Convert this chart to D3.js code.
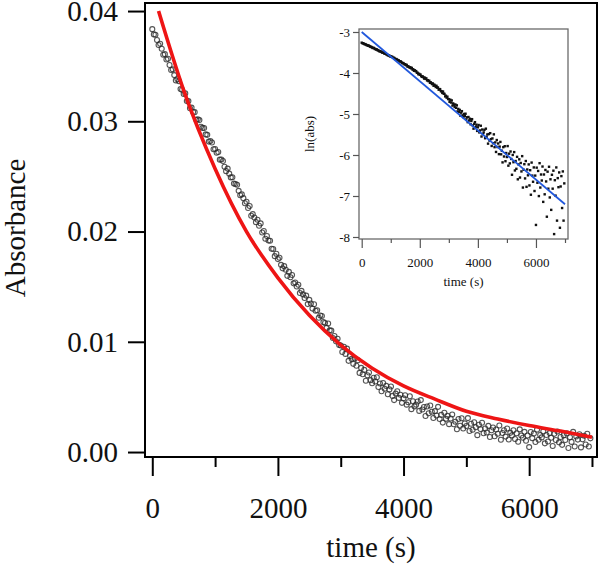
<!DOCTYPE html>
<html>
<head>
<meta charset="utf-8">
<script src="https://cdn.jsdelivr.net/npm/d3@7"></script>
<style>
  html, body { margin: 0; padding: 0; background: #fff; }
  svg { display: block; }
  text { font-family: "Liberation Serif", "Times New Roman", serif; fill: #111; }
</style>
</head>
<body>
<svg id="chart" width="600" height="568"></svg>
<script>
// ---------------- data ----------------
// sampling times (s): one reading every 25 s
const sampleTimes = d3.range(0, 7000, 25);
// absorbance readings (4 readings per 100 s)
const absorbance = [
  0.03836,0.03788,0.03785,0.03737, 0.03692,0.03704,0.03658,0.03604,
  0.03609,0.03561,0.03567,0.03510, 0.03465,0.03471,0.03419,0.03371,
  0.03382,0.03364,0.03292,0.03286, 0.03247,0.03253,0.03183,0.03183,
  0.03119,0.03124,0.03084,0.03083, 0.03013,0.03018,0.03011,0.02950,
  0.02940,0.02939,0.02881,0.02877, 0.02816,0.02821,0.02808,0.02747,
  0.02749,0.02715,0.02722,0.02652, 0.02653,0.02640,0.02588,0.02548,
  0.02571,0.02525,0.02491,0.02493, 0.02435,0.02431,0.02424,0.02369,
  0.02329,0.02337,0.02303,0.02257,
  0.02270,0.02213,0.02232,0.02143, 0.02158,0.02128,0.02085,0.02107,
  0.02052,0.02074,0.01991,0.02005, 0.01934,0.01959,0.01919,0.01916,
  0.01844,0.01841,0.01777,0.01798, 0.01750,0.01762,0.01698,0.01666,
  0.01686,0.01654,0.01598,0.01634, 0.01586,0.01606,0.01530,0.01538,
  0.01502,0.01518,0.01442,0.01462, 0.01430,0.01397,0.01419,0.01342,
  0.01380,0.01347,0.01301,0.01340, 0.01282,0.01286,0.01218,0.01238,
  0.01234,0.01178,0.01170,0.01126, 0.01166,0.01104,0.01101,0.01035,
  0.01052,0.01004,0.01028,0.00972,
  0.00966,0.00907,0.00955,0.00890, 0.00938,0.00827,0.00872,0.00845,
  0.00800,0.00849,0.00783,0.00832, 0.00718,0.00763,0.00706,0.00745,
  0.00646,0.00696,0.00722,0.00652, 0.00624,0.00674,0.00640,0.00678,
  0.00590,0.00622,0.00552,0.00626, 0.00574,0.00600,0.00524,0.00568,
  0.00594,0.00509,0.00471,0.00530, 0.00552,0.00491,0.00519,0.00446,
  0.00487,0.00515,0.00430,0.00451, 0.00506,0.00389,0.00461,0.00414,
  0.00430,0.00458,0.00373,0.00471, 0.00386,0.00409,0.00327,0.00413,
  0.00352,0.00422,0.00365,0.00309, 0.00371,0.00331,0.00410,0.00300,
  0.00337,0.00267,0.00357,0.00301, 0.00328,0.00253,0.00304,0.00341,
  0.00252,0.00275,0.00207,0.00300, 0.00239,0.00307,0.00213,0.00260,
  0.00236,0.00308,0.00191,0.00256, 0.00202,0.00270,0.00225,0.00153,
  0.00248,0.00208,0.00266,0.00170, 0.00214,0.00177,0.00237,0.00137,
  0.00197,0.00223,0.00143,0.00204, 0.00166,0.00241,0.00112,0.00173,
  0.00198,0.00140,0.00214,0.00114, 0.00174,0.00151,0.00197,0.00118,
  0.00171,0.00094,0.00206,0.00150, 0.00129,0.00183,0.00103,0.00150,
  0.00045,0.00182,0.00126,0.00168, 0.00091,0.00203,0.00112,0.00154,
  0.00133,0.00187,0.00079,0.00154, 0.00095,0.00172,0.00130,0.00055,
  0.00165,0.00109,0.00186,0.00088, 0.00137,0.00065,0.00153,0.00109,
  0.00169,0.00036,0.00134,0.00092, 0.00183,0.00050,0.00141,0.00113,
  0.00162,0.00042,0.00115,0.00148, 0.00068,0.00166,0.00050,0.00124
];
// red single-exponential fit
const fitTimes = [100, 500, 1000, 1500, 2000, 2500, 3000, 3500, 4000, 4500, 5000, 5500, 6000, 6500, 7000];
const fitAbs   = [0.0400, 0.0328, 0.0257, 0.0200, 0.0158, 0.0124, 0.0097, 0.0076, 0.0060, 0.0048, 0.0037, 0.0030, 0.0024, 0.0019, 0.00135];
// blue linear fit of ln(abs) in the inset
const lineTimes = [0, 7000];
const lineLn    = [-3.0, -7.2];
// tick labels
const mainYTicks = [0, 0.01, 0.02, 0.03, 0.04];
const mainXMajor = [0, 2000, 4000, 6000];
const mainXMinor = [1000, 3000, 5000, 7000];
const insetYTicks = [-3, -4, -5, -6, -7, -8];
const insetXMajor = [0, 2000, 4000, 6000];
const insetXMinor = [1000, 3000, 5000, 7000];

const points = sampleTimes.map((t, i) => ({ t, a: absorbance[i] }));
const fit = fitTimes.map((t, i) => ({ t, a: fitAbs[i] }));
const line = lineTimes.map((t, i) => ({ t, v: lineLn[i] }));

// ---------------- main chart ----------------
const svg = d3.select("#chart");
const L = 145, R = 597, T = 3, B = 457;
const x = d3.scaleLinear().domain([-116, 7080]).range([L, R]);
const y = d3.scaleLinear().domain([-0.00045, 0.04073]).range([B, T]);

svg.append("defs").append("clipPath").attr("id", "mainClip")
  .append("rect").attr("x", L).attr("y", T).attr("width", R - L).attr("height", B - T);

// data circles
svg.append("g").attr("clip-path", "url(#mainClip)")
  .selectAll("circle").data(points).join("circle")
  .attr("cx", d => x(d.t)).attr("cy", d => y(d.a)).attr("r", 2.5)
  .attr("fill", "none").attr("stroke", "#2a2a2a").attr("stroke-opacity", 0.8).attr("stroke-width", 1.1);

// red fit
svg.append("path").datum(fit)
  .attr("clip-path", "url(#mainClip)")
  .attr("d", d3.line().x(d => x(d.t)).y(d => y(d.a)).curve(d3.curveMonotoneX))
  .attr("fill", "none").attr("stroke", "#ee1515").attr("stroke-width", 3.6);

// frame
svg.append("rect").attr("x", L).attr("y", T).attr("width", R - L).attr("height", B - T)
  .attr("fill", "none").attr("stroke", "#000").attr("stroke-width", 2);

// y axis
const yAx = svg.append("g").attr("transform", `translate(${L},0)`)
  .call(d3.axisLeft(y).tickValues(mainYTicks).tickFormat(d3.format(".2f")).tickSize(17).tickPadding(10));
yAx.select(".domain").remove();
yAx.selectAll("line").attr("stroke", "#000").attr("stroke-width", 2);
yAx.selectAll("text").attr("font-size", 29).attr("fill", "#111")
  .style("font-family", "'Liberation Serif', serif");

// x axis major
const xAx = svg.append("g").attr("transform", `translate(0,${B})`)
  .call(d3.axisBottom(x).tickValues(mainXMajor).tickFormat(d3.format("d")).tickSize(19));
xAx.select(".domain").remove();
xAx.selectAll("line").attr("stroke", "#000").attr("stroke-width", 2);
xAx.selectAll("text").attr("font-size", 29).attr("y", 61).attr("dy", 0).attr("fill", "#111")
  .style("font-family", "'Liberation Serif', serif");
// x axis minor
const xAxm = svg.append("g").attr("transform", `translate(0,${B})`)
  .call(d3.axisBottom(x).tickValues(mainXMinor).tickFormat("").tickSize(10));
xAxm.select(".domain").remove();
xAxm.selectAll("line").attr("stroke", "#000").attr("stroke-width", 2);

// axis titles
svg.append("text").attr("transform", "translate(25,228) rotate(-90)")
  .attr("text-anchor", "middle").attr("font-size", 29).text("Absorbance");
svg.append("text").attr("x", 371).attr("y", 557)
  .attr("text-anchor", "middle").attr("font-size", 29).text("time (s)");

// ---------------- inset ----------------
const iL = 359, iR = 568, iT = 29, iB = 239;
const xi = d3.scaleLinear().domain([-93, 7103]).range([iL, iR]);
const yi = d3.scaleLinear().domain([-8.049, -2.927]).range([iB, iT]);

svg.append("rect").attr("x", iL).attr("y", iT).attr("width", iR - iL).attr("height", iB - iT)
  .attr("fill", "#fff");

svg.select("defs").append("clipPath").attr("id", "insetClip")
  .append("rect").attr("x", iL).attr("y", iT).attr("width", iR - iL).attr("height", iB - iT);

const lnPoints = points.filter(d => d.a > 0).map(d => ({ t: d.t, v: Math.log(d.a) }));
svg.append("g").attr("clip-path", "url(#insetClip)")
  .selectAll("rect").data(lnPoints).join("rect")
  .attr("x", d => xi(d.t) - 1.2).attr("y", d => yi(d.v) - 1.2)
  .attr("width", 2.4).attr("height", 2.4).attr("fill", "#111");

svg.append("path").datum(line)
  .attr("clip-path", "url(#insetClip)")
  .attr("d", d3.line().x(d => xi(d.t)).y(d => yi(d.v)))
  .attr("fill", "none").attr("stroke", "#2158dc").attr("stroke-width", 1.8);

svg.append("rect").attr("x", iL).attr("y", iT).attr("width", iR - iL).attr("height", iB - iT)
  .attr("fill", "none").attr("stroke", "#6a6a6a").attr("stroke-width", 1.3);

const yiAx = svg.append("g").attr("transform", `translate(${iL},0)`)
  .call(d3.axisLeft(yi).tickValues(insetYTicks).tickFormat(d => String(d)).tickSize(6).tickPadding(3));
yiAx.select(".domain").remove();
yiAx.selectAll("line").attr("stroke", "#555").attr("stroke-width", 1.2);
yiAx.selectAll("text").attr("font-size", 13).attr("fill", "#222")
  .style("font-family", "'Liberation Serif', serif");

const xiAx = svg.append("g").attr("transform", `translate(0,${iB})`)
  .call(d3.axisBottom(xi).tickValues(insetXMajor).tickFormat(d3.format("d")).tickSize(9));
xiAx.select(".domain").remove();
xiAx.selectAll("line").attr("stroke", "#555").attr("stroke-width", 1.2);
xiAx.selectAll("text").attr("font-size", 13).attr("y", 28).attr("dy", 0).attr("fill", "#222")
  .style("font-family", "'Liberation Serif', serif");
const xiAxm = svg.append("g").attr("transform", `translate(0,${iB})`)
  .call(d3.axisBottom(xi).tickValues(insetXMinor).tickFormat("").tickSize(4));
xiAxm.select(".domain").remove();
xiAxm.selectAll("line").attr("stroke", "#555").attr("stroke-width", 1.2);

svg.append("text").attr("transform", "translate(314,134) rotate(-90)")
  .attr("text-anchor", "middle").attr("font-size", 13).attr("fill", "#222").text("ln(abs)");
svg.append("text").attr("x", 463.5).attr("y", 286)
  .attr("text-anchor", "middle").attr("font-size", 13).attr("fill", "#222").text("time (s)");
</script>
</body>
</html>
